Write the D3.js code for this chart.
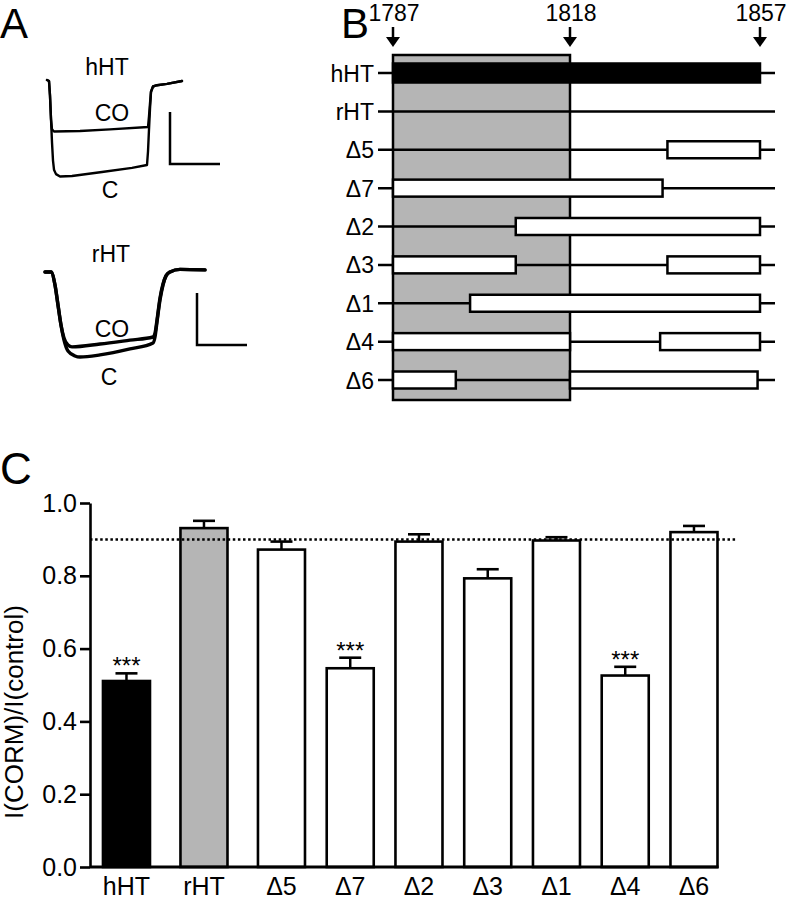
<!DOCTYPE html>
<html><head><meta charset="utf-8">
<script src="https://cdn.jsdelivr.net/npm/d3@7"></script>
<style>
body{margin:0;background:#fff}
svg{display:block}
text{font-family:"Liberation Sans",Arial,Helvetica,sans-serif;fill:#000}
</style>
</head><body>
<svg id="fig" width="787" height="899"></svg>
<script>
// ================= DATA =================
// Panel A: current traces (time in ms, current in arbitrary units; C = control, CO = with CORM)
const hHT_C_t  = [0,2,3,4,5,6,7,9,13,25,55,85,100,101,102,103,104,106,110,120,135];
const hHT_C_I  = [0,-0.04,-0.6,-1.5,-2.4,-3.1,-3.45,-3.62,-3.71,-3.69,-3.54,-3.38,-3.27,-2.75,-1.9,-1.1,-0.45,-0.25,-0.2,-0.15,-0.04];
const hHT_CO_t = [0,2,3,4,5,7,33,63,101,102,103,104,106,110,120,135];
const hHT_CO_I = [0,-0.04,-0.6,-1.5,-1.9,-1.98,-1.96,-1.9,-1.81,-1.4,-0.9,-0.45,-0.25,-0.2,-0.15,-0.04];
const rHT_C_t  = [0,6,10,13,16,19,23,30,35,55,85,108,110,112,115,118,121,125,135,160];
const rHT_C_I  = [0,0,-0.5,-1.27,-2.04,-2.62,-3.04,-3.23,-3.27,-3.19,-2.96,-2.73,-2.5,-1.92,-1.08,-0.5,-0.15,0,0.1,0.08];
const rHT_CO_t = [0,6,10,13,16,19,23,27,55,85,108,110,112,115,118,121,125,135,160];
const rHT_CO_I = [0,0,-0.5,-1.27,-2.04,-2.54,-2.81,-2.88,-2.77,-2.62,-2.5,-2.35,-1.85,-1.0,-0.46,-0.15,0,0.1,0.08];
const scaleBarTime = 50;     // ms
const scaleBarCurrent = 2;   // units

// Panel B: constructs and human-sequence segments (residue numbers)
const constructs = ["hHT","rHT","Δ5","Δ7","Δ2","Δ3","Δ1","Δ4","Δ6"];
const residueMarks = [1787, 1818, 1857];
const shadedRegion = [1787, 1818];
const segConstruct = ["hHT","Δ5","Δ7","Δ2","Δ3","Δ3","Δ1","Δ4","Δ4","Δ6","Δ6"];
const segStart     = [1787, 1838, 1787, 1808.5, 1787, 1838, 1800.5, 1787, 1836.5, 1787, 1818];
const segEnd       = [1857, 1857, 1837, 1857, 1808.5, 1857, 1857, 1818, 1857, 1798, 1856.5];

// Panel C: I(CORM)/I(control)
const categories  = ["hHT","rHT","Δ5","Δ7","Δ2","Δ3","Δ1","Δ4","Δ6"];
const groupIndex  = [0,1,2,2,2,2,2,2,2];
const ratioMean   = [0.511,0.931,0.872,0.546,0.894,0.793,0.897,0.526,0.920];
const ratioSem    = [0.021,0.020,0.022,0.029,0.020,0.025,0.009,0.024,0.017];
const significance= ["***","","","***","","","","***",""];
const yTicks      = [0.0,0.2,0.4,0.6,0.8,1.0];
const referenceLevel = 0.9;

// ================= DRAW =================
const svg = d3.select("#fig");
const GRAY = "#b5b5b5";

// Panel letters
[["A",0,38,42],["B",341,38,42],["C",0,484,44]].forEach(([t,x,y,s])=>{
  svg.append("text").attr("x",x).attr("y",y).attr("font-size",s).text(t);
});

// ---------- Panel A ----------
function tracePanel(cfg){
  const x = d3.scaleLinear().domain([0,150]).range([cfg.x0, cfg.x0+150]);
  const y = d3.scaleLinear().domain([0,-4]).range([cfg.y0, cfg.y0+104]);
  const line = d3.line().x(d=>x(d[0])).y(d=>y(d[1])).curve(cfg.curve);
  const g = svg.append("g");
  cfg.traces.forEach(tr=>{
    const pts = tr.t.map((v,i)=>[v,tr.I[i]]);
    g.append("path").attr("d",line(pts)).attr("fill","none")
      .attr("stroke","#000").attr("stroke-width",cfg.sw)
      .attr("stroke-linejoin","round").attr("stroke-linecap","round");
  });
  // scale bar
  const sb = cfg.bar;
  g.append("path").attr("fill","none").attr("stroke","#000").attr("stroke-width",2.5)
    .attr("d",`M${x(sb.t)},${y(sb.I+scaleBarCurrent)}V${y(sb.I)}H${x(sb.t+scaleBarTime)}`);
  cfg.labels.forEach(l=>{
    g.append("text").attr("x",l[1]).attr("y",l[2]).attr("text-anchor","middle")
      .attr("font-size",23).text(l[0]);
  });
}
tracePanel({x0:47,y0:80,sw:2.4,curve:d3.curveLinear,
  traces:[{t:hHT_C_t,I:hHT_C_I},{t:hHT_CO_t,I:hHT_CO_I}],
  bar:{t:123,I:-3.23},
  labels:[["hHT",107,75],["CO",112,121],["C",110,198]]});
tracePanel({x0:45,y0:272,sw:3.4,curve:d3.curveMonotoneX,
  traces:[{t:rHT_C_t,I:rHT_C_I},{t:rHT_CO_t,I:rHT_CO_I}],
  bar:{t:152,I:-2.81},
  labels:[["rHT",111,262],["CO",112,337],["C",109,385]]});

// ---------- Panel B ----------
(function(){
  const xr = d3.scaleLinear().domain(residueMarks).range([393,570,760]);
  const ry = d3.scalePoint().domain(constructs).range([73,380]);
  const g = svg.append("g");
  // residue labels and arrows
  residueMarks.forEach(r=>{
    g.append("text").attr("x",xr(r)+1).attr("y",21).attr("text-anchor","middle")
      .attr("font-size",23).text(r);
    g.append("line").attr("x1",xr(r)).attr("x2",xr(r)).attr("y1",27).attr("y2",39)
      .attr("stroke","#000").attr("stroke-width",2.5);
    g.append("path").attr("d",`M${xr(r)-7},37L${xr(r)+7},37L${xr(r)},47Z`).attr("fill","#000");
  });
  // shaded region
  g.append("rect").attr("x",xr(shadedRegion[0])).attr("y",55)
    .attr("width",xr(shadedRegion[1])-xr(shadedRegion[0])).attr("height",345)
    .attr("fill",GRAY).attr("stroke","#000").attr("stroke-width",2.5);
  // rows
  constructs.forEach(c=>{
    g.append("line").attr("x1",378).attr("x2",775).attr("y1",ry(c)).attr("y2",ry(c))
      .attr("stroke","#000").attr("stroke-width",2.5);
    g.append("text").attr("x",374).attr("y",ry(c)+8.5).attr("text-anchor","end")
      .attr("font-size",23).text(c);
  });
  segConstruct.forEach((c,i)=>{
    const full = c==="hHT";
    const h = full?19:17;
    g.append("rect").attr("x",xr(segStart[i])).attr("y",ry(c)-h/2)
      .attr("width",xr(segEnd[i])-xr(segStart[i])).attr("height",h)
      .attr("fill",full?"#000":"#fff").attr("stroke","#000").attr("stroke-width",2.5);
  });
})();

// ---------- Panel C ----------
(function(){
  const gap = 8.75;
  const xb = d3.scaleBand().domain(categories).range([92.1, 92.1+9*68.75])
    .paddingInner(0.316).paddingOuter(0.158);
  const xPos = (c,i)=> xb(c) + groupIndex[i]*gap;
  const y = d3.scaleLinear().domain([0,1]).range([867,503]);
  const g = svg.append("g");
  const fillOf = c => c==="hHT" ? "#000" : (c==="rHT" ? GRAY : "#fff");

  // bars
  categories.forEach((c,i)=>{
    g.append("rect").attr("x",xPos(c,i)).attr("y",y(ratioMean[i]))
      .attr("width",xb.bandwidth()).attr("height",y(0)-y(ratioMean[i]))
      .attr("fill",fillOf(c)).attr("stroke","#000").attr("stroke-width",2.6);
  });
  // reference dotted line
  g.append("line").attr("x1",90).attr("x2",737).attr("y1",y(referenceLevel)).attr("y2",y(referenceLevel))
    .attr("stroke","#000").attr("stroke-width",2.5).attr("stroke-dasharray","2.5,2.6");
  // error bars
  categories.forEach((c,i)=>{
    const cx = xPos(c,i)+xb.bandwidth()/2;
    const top = y(ratioMean[i]+ratioSem[i]);
    g.append("line").attr("x1",cx).attr("x2",cx).attr("y1",y(ratioMean[i])).attr("y2",top)
      .attr("stroke","#000").attr("stroke-width",2.5);
    g.append("line").attr("x1",cx-11).attr("x2",cx+11).attr("y1",top).attr("y2",top)
      .attr("stroke","#000").attr("stroke-width",2.6);
    if(significance[i]){
      g.append("text").attr("x",cx).attr("y",top+1).attr("text-anchor","middle")
        .attr("font-size",24).text(significance[i]);
    }
    g.append("text").attr("x",cx).attr("y",895).attr("text-anchor","middle")
      .attr("font-size",25).text(c);
  });
  // axes
  const lastI = categories.length-1;
  g.append("line").attr("x1",90).attr("x2",xPos(categories[lastI],lastI)+xb.bandwidth()+1)
    .attr("y1",y(0)).attr("y2",y(0)).attr("stroke","#000").attr("stroke-width",3);
  const ax = g.append("g").attr("transform","translate(90,0)")
    .call(d3.axisLeft(y).tickValues(yTicks).tickFormat(d3.format(".1f")).tickSize(10).tickSizeOuter(0).tickPadding(3));
  ax.select(".domain").attr("stroke","#000").attr("stroke-width",2.6);
  ax.selectAll(".tick line").attr("stroke","#000").attr("stroke-width",2.6);
  ax.selectAll(".tick text").attr("font-size",25).attr("fill","#000")
    .attr("font-family","Liberation Sans, Arial, sans-serif");
  // y title
  g.append("text").attr("transform","translate(23,712) rotate(-90)")
    .attr("text-anchor","middle").attr("font-size",26).text("I(CORM)/I(control)");
})();
</script>
</body></html>
